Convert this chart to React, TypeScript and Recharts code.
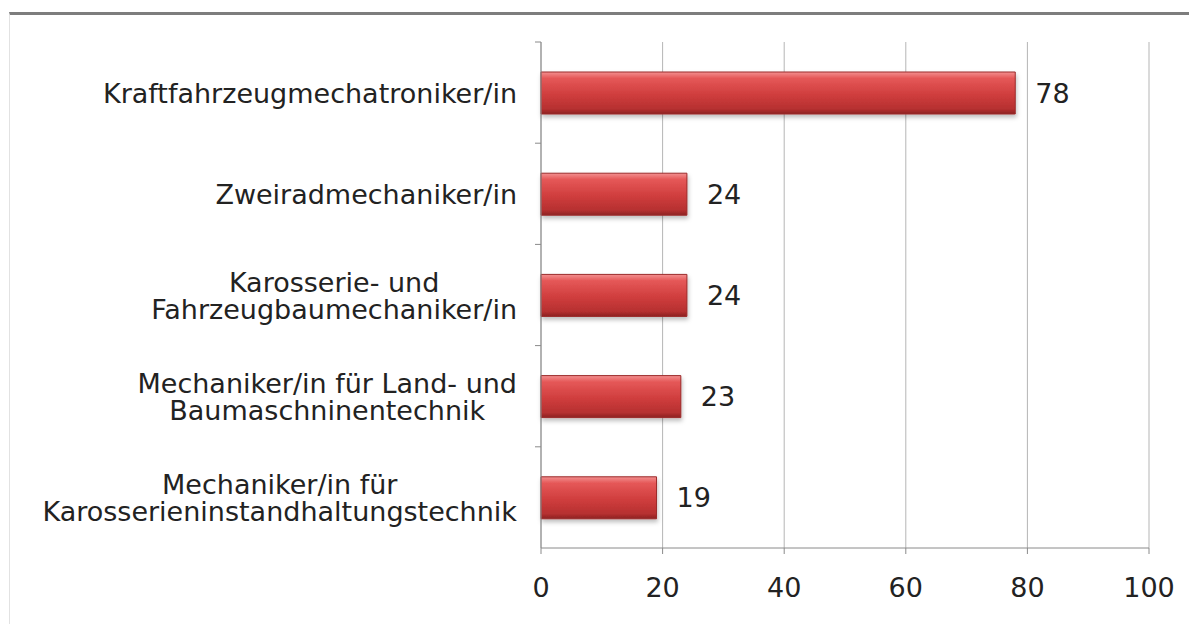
import { BarChart, Bar, XAxis, YAxis, CartesianGrid, LabelList } from "recharts";

const categories = [
  "Kraftfahrzeugmechatroniker/in",
  "Zweiradmechaniker/in",
  "Karosserie- und\nFahrzeugbaumechaniker/in",
  "Mechaniker/in für Land- und\nBaumaschninentechnik",
  "Mechaniker/in für\nKarosserieninstandhaltungstechnik",
];
const values = [78, 24, 24, 23, 19];
const xTicks = [0, 20, 40, 60, 80, 100];

const data = categories.map((name, i) => ({ name, value: values[i] }));

const FONT = "'DejaVu Sans', Verdana, sans-serif";
const FONT_SIZE = 27;
const CHART_W = 1189;
const CHART_H = 624;
const PLOT_TOP = 42;
const PLOT_BOTTOM = 548;
const AXIS_X = 541;
const band = (PLOT_BOTTOM - PLOT_TOP) / categories.length;

const textStyle = { fontFamily: FONT, fontSize: FONT_SIZE, fill: "#222" };

let ctx: CanvasRenderingContext2D | null = null;
function textWidth(s: string) {
  if (!ctx) ctx = document.createElement("canvas").getContext("2d");
  if (!ctx) return s.length * 15;
  ctx.font = `${FONT_SIZE}px ${FONT}`;
  return ctx.measureText(s).width;
}

function CategoryTick(props: any) {
  const { y, payload } = props;
  const lines = String(payload.value).split("\n");
  const blockW = Math.max(...lines.map(textWidth));
  const right = AXIS_X - 24;
  const cx = right - blockW / 2;
  const lh = 27;
  const startY = y - ((lines.length - 1) * lh) / 2;
  const boundary = y - band / 2;
  return (
    <g>
      <line x1={AXIS_X - 6} x2={AXIS_X} y1={boundary} y2={boundary} stroke="#8a8a8a" />
      <text x={cx} y={startY} textAnchor="middle" dominantBaseline="central" style={textStyle}>
        {lines.map((l, i) => (
          <tspan key={i} x={cx} y={startY + i * lh}>
            {l}
          </tspan>
        ))}
      </text>
    </g>
  );
}

export default function App() {
  return (
    <div style={{ position: "absolute", left: 0, top: 0, width: CHART_W, height: CHART_H, background: "#fff" }}>
      <div
        style={{
          position: "absolute",
          left: 9,
          top: 12,
          width: CHART_W - 10,
          height: CHART_H - 15,
          borderTop: "3px solid #7d7d7d",
          borderLeft: "1px solid #e2e2e2",
        }}
      />
      <div style={{ position: "absolute", left: 0, top: 0 }}>
        <BarChart
          width={CHART_W}
          height={CHART_H}
          data={data}
          layout="vertical"
          margin={{ top: PLOT_TOP, right: 40, bottom: 0, left: 0 }}
          barCategoryGap={0}
        >
          <defs>
            <linearGradient id="barFill" x1="0" y1="0" x2="0" y2="1">
              <stop offset="0%" stopColor="#f39090" />
              <stop offset="15%" stopColor="#e55858" />
              <stop offset="55%" stopColor="#cf3d3d" />
              <stop offset="88%" stopColor="#b63030" />
              <stop offset="100%" stopColor="#8c2222" />
            </linearGradient>
            <filter id="barShadow" x="-5%" y="-20%" width="110%" height="150%">
              <feDropShadow dx="1" dy="3" stdDeviation="2" floodColor="#000" floodOpacity="0.25" />
            </filter>
          </defs>
          <CartesianGrid horizontal={false} stroke="#b5b5b5" />
          <XAxis
            type="number"
            domain={[0, 100]}
            ticks={xTicks}
            height={CHART_H - PLOT_BOTTOM}
            axisLine={{ stroke: "#8a8a8a" }}
            tickLine={{ stroke: "#8a8a8a" }}
            tickSize={6}
            tickMargin={24}
            tick={textStyle}
          />
          <YAxis
            type="category"
            dataKey="name"
            width={AXIS_X}
            axisLine={{ stroke: "#8a8a8a" }}
            tickLine={false}
            tick={<CategoryTick />}
            interval={0}
          />
          <Bar
            dataKey="value"
            barSize={42}
            fill="url(#barFill)"
            stroke="#9b2a2a"
            strokeWidth={1}
            filter="url(#barShadow)"
            isAnimationActive={false}
          >
            <LabelList dataKey="value" position="right" offset={20} style={textStyle} />
          </Bar>
        </BarChart>
      </div>
    </div>
  );
}
